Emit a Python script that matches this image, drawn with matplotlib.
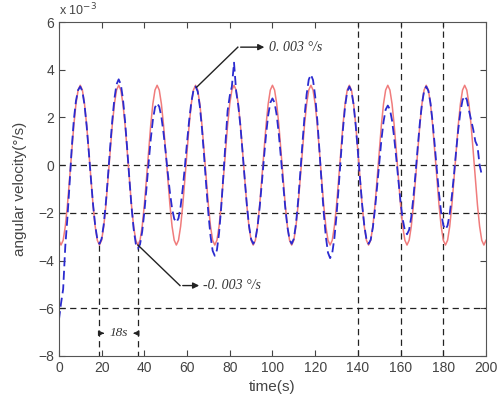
import matplotlib
matplotlib.use("Agg")
import matplotlib.pyplot as plt
import numpy as np

# sample times, 1 s apart
time_s = np.arange(0, 201)

# reference sine (x 1e-3 deg/s), read every second
red = [-3.15,
       -3.35, -3.15, -2.57, -1.68, -0.58, 0.58, 1.68, 2.57, 3.15, 3.35, 3.15, 2.57, 1.68, 0.58, -0.58, -1.68, -2.57, -3.15,
       -3.35, -3.15, -2.57, -1.68, -0.58, 0.58, 1.68, 2.57, 3.15, 3.35, 3.15, 2.57, 1.68, 0.58, -0.58, -1.68, -2.57, -3.15,
       -3.35, -3.15, -2.57, -1.68, -0.58, 0.58, 1.68, 2.57, 3.15, 3.35, 3.15, 2.57, 1.68, 0.58, -0.58, -1.68, -2.57, -3.15,
       -3.35, -3.15, -2.57, -1.68, -0.58, 0.58, 1.68, 2.57, 3.15, 3.35, 3.15, 2.57, 1.68, 0.58, -0.58, -1.68, -2.57, -3.15,
       -3.35, -3.15, -2.57, -1.68, -0.58, 0.58, 1.68, 2.57, 3.15, 3.35, 3.15, 2.57, 1.68, 0.58, -0.58, -1.68, -2.57, -3.15,
       -3.35, -3.15, -2.57, -1.68, -0.58, 0.58, 1.68, 2.57, 3.15, 3.35, 3.15, 2.57, 1.68, 0.58, -0.58, -1.68, -2.57, -3.15,
       -3.35, -3.15, -2.57, -1.68, -0.58, 0.58, 1.68, 2.57, 3.15, 3.35, 3.15, 2.57, 1.68, 0.58, -0.58, -1.68, -2.57, -3.15,
       -3.35, -3.15, -2.57, -1.68, -0.58, 0.58, 1.68, 2.57, 3.15, 3.35, 3.15, 2.57, 1.68, 0.58, -0.58, -1.68, -2.57, -3.15,
       -3.35, -3.15, -2.57, -1.68, -0.58, 0.58, 1.68, 2.57, 3.15, 3.35, 3.15, 2.57, 1.68, 0.58, -0.58, -1.68, -2.57, -3.15,
       -3.35, -3.15, -2.57, -1.68, -0.58, 0.58, 1.68, 2.57, 3.15, 3.35, 3.15, 2.57, 1.68, 0.58, -0.58, -1.68, -2.57, -3.15,
       -3.35, -3.15, -2.57, -1.68, -0.58, 0.58, 1.68, 2.57, 3.15, 3.35, 3.15, 2.57, 1.68, 0.58, -0.58, -1.68, -2.57, -3.15,
       -3.35, -3.15]

# measured angular velocity (x 1e-3 deg/s), t = 0..198 s
blue = [-6.5, -5.8, -5.2, -3.4, -2.2, -0.8, 0.7, 1.9, 2.7, 3.15, 3.3,
        3.10, 2.53, 1.65, 0.57, -0.57, -1.65, -2.53, -3.10, -3.3,
        -3.09, -2.49, -1.58, -0.45, 0.75, 1.88, 2.79, 3.39, 3.6,
        3.39, 2.77, 1.83, 0.67, -0.57, -1.73, -2.67, -3.29, -3.5,
        -3.32, -2.79, -1.98, -0.98, 0.08, 1.08, 1.89, 2.42, 2.6,
        2.45, 2.02, 1.35, 0.54, -0.34, -1.15, -1.82, -2.25, -2.4,
        -2.23, -1.73, -0.98, -0.05, 0.95, 1.88, 2.63, 3.13, 3.3,
        3.09, 2.47, 1.53, 0.37, -0.87, -2.03, -2.97, -3.59, -3.8,
        -3.56, -2.85, -1.78, -0.45, 0.95, 2.28, 2.9, 3.3, 4.3,
        3.1, 2.5, 1.65, 0.57, -0.57, -1.65, -2.53, -3.1, -3.3,
        -3.12, -2.59, -1.78, -0.78, 0.28, 1.28, 2.09, 2.62, 2.8,
        2.62, 2.09, 1.28, 0.28, -0.78, -1.78, -2.59, -3.12, -3.3,
        -3.09, -2.47, -1.53, -0.37, 0.87, 2.03, 2.97, 3.59, 3.8,
        3.57, 2.90, 1.88, 0.62, -0.72, -1.98, -3.0, -3.67, -3.9,
        -3.68, -3.06, -2.1, -0.93, 0.33, 1.5, 2.46, 3.08, 3.3,
        3.10, 2.53, 1.65, 0.57, -0.57, -1.65, -2.53, -3.10, -3.3,
        -3.13, -2.62, -1.85, -0.90, 0.10, 1.05, 1.82, 2.33, 2.5,
        2.34, 1.87, 1.15, 0.27, -0.67, -1.55, -2.27, -2.74, -2.9,
        -2.71, -2.17, -1.35, -0.34, 0.74, 1.75, 2.57, 3.11, 3.3,
        3.12, 2.60, 1.8, 0.82, -0.22, -1.2, -2.0, -2.52, -2.7,
        -2.53, -2.04, -1.3, -0.39, 0.59, 1.5, 2.24, 2.73, 2.9,
        2.75, 2.3, 1.9, 1.5, 1.0, 0.8, 0.0, -0.4]

# dashed guide lines
h_levels = [0, -2, -6]
v_full = [140, 160, 180]
v_short = [19, 37]
v_short_top = -3.35

xticks = [0, 20, 40, 60, 80, 100, 120, 140, 160, 180, 200]
yticks = [-8, -6, -4, -2, 0, 2, 4, 6]

plt.rcParams['font.family'] = ['Liberation Sans', 'DejaVu Sans']

fig = plt.figure(figsize=(4.99, 3.95), dpi=100)
ax = fig.add_axes([0.118, 0.099, 0.856, 0.845])

dash = (0, (5, 3.5))
for y in h_levels:
    ax.axhline(y, color="#222222", lw=0.9, ls=dash)
for x in v_full:
    ax.axvline(x, color="#222222", lw=0.9, ls=dash)
for x in v_short:
    ax.plot([x, x], [v_short_top, -8], color="#222222", lw=0.9, ls=dash)

ax.plot(time_s, red, color="#f07c7c", lw=1.1)
ax.plot(time_s[:len(blue)], blue, color="#2b2bd0", lw=1.3, ls=(0, (5, 2.5)))

ax.set_xlim(0, 200)
ax.set_ylim(-8, 6)
ax.set_xticks(xticks)
ax.set_yticks(yticks)
ax.tick_params(direction="in", top=True, right=True, labelsize=10,
               colors="#444444", length=4)
for s in ax.spines.values():
    s.set_color("#555555")

ax.set_xlabel("time(s)", fontsize=11, color="#444444", labelpad=4)
ax.set_ylabel("angular velocity(°/s)", fontsize=11, color="#444444", labelpad=8)
ax.text(0.0, 1.012, r"x 10$^{-3}$", transform=ax.transAxes, fontsize=9,
        color="#444444", ha="left", va="bottom")

# annotations
serif = dict(family="Liberation Serif", style="italic", fontsize=10, color="#333333")
ax.plot([64.5, 83.8], [3.27, 4.95], color="#222222", lw=1)
ax.annotate("", xy=(97.5, 4.95), xytext=(83.8, 4.95),
            arrowprops=dict(arrowstyle="-|>", color="#222222", lw=1, mutation_scale=9))
ax.text(98.5, 4.95, "0. 003 °/s", va="center", ha="left", **serif)

ax.plot([37, 56.7], [-3.35, -5.05], color="#222222", lw=1)
ax.annotate("", xy=(67, -5.05), xytext=(56.7, -5.05),
            arrowprops=dict(arrowstyle="-|>", color="#222222", lw=1, mutation_scale=9))
ax.text(67.5, -5.05, "-0. 003 °/s", va="center", ha="left", **serif)

ax.annotate("", xy=(22.5, -7.05), xytext=(19, -7.05),
            arrowprops=dict(arrowstyle="-|>", color="#222222", lw=0.8, mutation_scale=8))
ax.annotate("", xy=(33.5, -7.05), xytext=(37, -7.05),
            arrowprops=dict(arrowstyle="-|>", color="#222222", lw=0.8, mutation_scale=8))
ax.text(28, -7.05, "18s", va="center", ha="center",
        family="Liberation Serif", style="italic", fontsize=9.5, color="#333333")

fig.savefig("out.png", dpi=100)
